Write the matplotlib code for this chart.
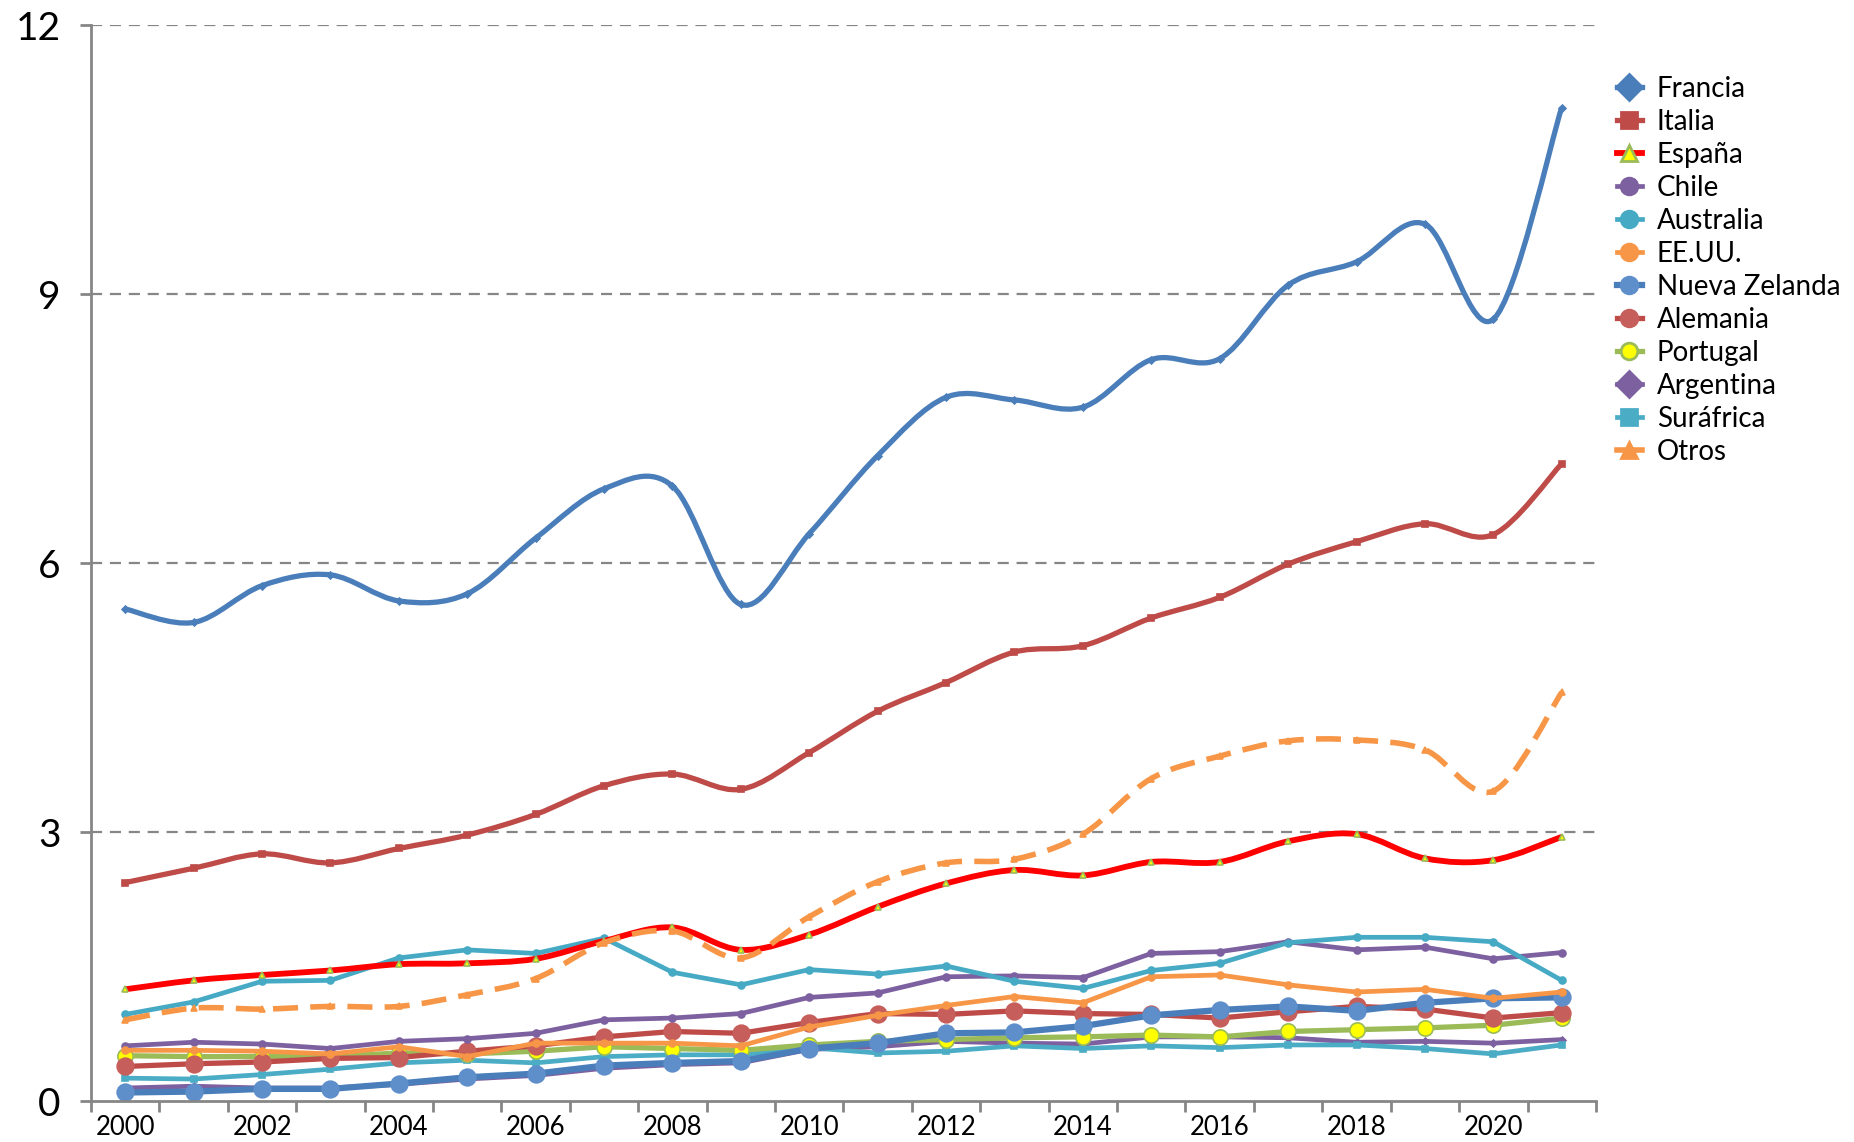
"""Recreate the multi-country line chart (2000-2021)."""

import matplotlib

matplotlib.use("Agg")
import matplotlib.pyplot as plt
from matplotlib.lines import Line2D
from matplotlib.patches import PathPatch
from matplotlib.path import Path

plt.rcParams["font.family"] = ["Lato", "DejaVu Sans"]

years = list(range(2000, 2022))

francia = [5.49, 5.34, 5.75, 5.87, 5.58, 5.66, 6.28, 6.83, 6.86, 5.54, 6.33,
           7.20, 7.85, 7.82, 7.74, 8.27, 8.28, 9.10, 9.36, 9.78, 8.72, 11.08]
italia = [2.44, 2.60, 2.76, 2.66, 2.82, 2.97, 3.20, 3.52, 3.65, 3.48, 3.89,
          4.35, 4.67, 5.01, 5.08, 5.39, 5.62, 5.99, 6.24, 6.44, 6.32, 7.11]
espana = [1.25, 1.35, 1.41, 1.46, 1.53, 1.54, 1.59, 1.79, 1.94, 1.69, 1.86,
          2.17, 2.43, 2.58, 2.52, 2.67, 2.67, 2.90, 2.98, 2.71, 2.69, 2.95]
chile = [0.62, 0.66, 0.64, 0.59, 0.67, 0.70, 0.76, 0.91, 0.93, 0.98, 1.16,
         1.21, 1.39, 1.40, 1.38, 1.65, 1.67, 1.78, 1.69, 1.72, 1.59, 1.66]
australia = [0.97, 1.11, 1.34, 1.35, 1.60, 1.69, 1.65, 1.82, 1.44, 1.30, 1.47,
             1.42, 1.51, 1.34, 1.26, 1.46, 1.54, 1.77, 1.83, 1.83, 1.78, 1.35]
eeuu = [0.57, 0.57, 0.56, 0.53, 0.61, 0.50, 0.65, 0.65, 0.65, 0.62, 0.83,
        0.96, 1.07, 1.17, 1.10, 1.39, 1.41, 1.30, 1.22, 1.25, 1.15, 1.22]
nueva_zelanda = [0.10, 0.11, 0.14, 0.14, 0.20, 0.27, 0.31, 0.40, 0.43, 0.45, 0.59,
                 0.65, 0.76, 0.77, 0.84, 0.96, 1.02, 1.06, 1.01, 1.10, 1.15, 1.16]
alemania = [0.39, 0.42, 0.44, 0.48, 0.49, 0.56, 0.62, 0.72, 0.78, 0.76, 0.88,
            0.98, 0.97, 1.01, 0.98, 0.97, 0.93, 1.00, 1.06, 1.03, 0.93, 0.99]
portugal = [0.51, 0.50, 0.50, 0.50, 0.54, 0.53, 0.56, 0.61, 0.59, 0.57, 0.63,
            0.67, 0.69, 0.71, 0.72, 0.74, 0.72, 0.78, 0.80, 0.82, 0.85, 0.93]
argentina = [0.15, 0.17, 0.15, 0.15, 0.19, 0.25, 0.29, 0.37, 0.41, 0.43, 0.58,
             0.61, 0.67, 0.65, 0.64, 0.72, 0.72, 0.71, 0.66, 0.67, 0.65, 0.69]
surafrica = [0.26, 0.25, 0.30, 0.36, 0.43, 0.46, 0.43, 0.50, 0.52, 0.52, 0.60,
             0.54, 0.56, 0.62, 0.59, 0.62, 0.60, 0.63, 0.63, 0.59, 0.53, 0.63]
otros = [0.91, 1.04, 1.03, 1.06, 1.06, 1.19, 1.37, 1.77, 1.90, 1.60, 2.06,
         2.45, 2.66, 2.70, 2.98, 3.60, 3.85, 4.02, 4.03, 3.92, 3.46, 4.56]

x_labels = [str(y) for y in years[::2]]
y_ticks = [0, 3, 6, 9, 12]

GRAY = "#868686"


def smooth_path(xs, ys):
    """Bezier path through the points (Excel-style smoothed line)."""
    n = len(xs)
    verts = [(xs[0], ys[0])]
    codes = [Path.MOVETO]
    for i in range(n - 1):
        a = max(i - 1, 0)
        b = min(i + 2, n - 1)
        c1 = (xs[i] + (xs[i + 1] - xs[a]) / 6, ys[i] + (ys[i + 1] - ys[a]) / 6)
        c2 = (xs[i + 1] - (xs[b] - xs[i]) / 6, ys[i + 1] - (ys[b] - ys[i]) / 6)
        verts += [c1, c2, (xs[i + 1], ys[i + 1])]
        codes += [Path.CURVE4] * 3
    return Path(verts, codes)


# name, values, line colour, lw, marker, size, face, edge, smooth, dashed, z
series = [
    ("Francia", francia, "#4A7EBB", 3.8, "D", 3.5, "#4A7EBB", "#4A7EBB", True, False, 2.9),
    ("Italia", italia, "#BE4B48", 3.8, "s", 4, "#BE4B48", "#BE4B48", True, False, 2.8),
    ("España", espana, "#FF0000", 4.2, "^", 5, "#FFFF00", "#9BBB59", True, False, 3.0),
    ("Chile", chile, "#7D60A0", 3.4, "o", 5, "#7D60A0", "#7D60A0", False, False, 2.5),
    ("Australia", australia, "#46AAC5", 3.4, "o", 5, "#46AAC5", "#46AAC5", False, False, 2.7),
    ("EE.UU.", eeuu, "#F79646", 3.4, "o", 5, "#F79646", "#F79646", False, False, 2.6),
    ("Nueva Zelanda", nueva_zelanda, "#4A7EBB", 4.5, "o", 12, "#5F8FCB", "#5F8FCB", False, False, 2.4),
    ("Alemania", alemania, "#BE4B48", 3.8, "o", 12, "#C65E5B", "#C65E5B", False, False, 2.3),
    ("Portugal", portugal, "#9BBB59", 3.8, "o", 11, "#FFFF00", "#9BBB59", False, False, 2.2),
    ("Argentina", argentina, "#7D60A0", 3.4, "D", 3.5, "#7D60A0", "#7D60A0", False, False, 2.0),
    ("Surafrica", surafrica, "#4BACC6", 3.4, "s", 4, "#4BACC6", "#4BACC6", False, False, 2.1),
    ("Otros", otros, "#F79646", 4.0, "^", 5, "#F79646", "#F79646", True, True, 3.1),
]
legend_names = ["Francia", "Italia", "España", "Chile", "Australia", "EE.UU.",
                "Nueva Zelanda", "Alemania", "Portugal", "Argentina", "Suráfrica", "Otros"]
legend_markers = ["D", "s", "^", "o", "o", "o", "o", "o", "o", "D", "s", "^"]


def main() -> None:
    fig = plt.figure(figsize=(18.54, 11.42), dpi=100)
    ax = fig.add_axes([0.0491, 0.0355, 0.8117, 0.9426])
    xs = list(range(len(years)))

    handles = []
    for (name, vals, lc, lw, mk, ms, fc, ec, smooth, dashed, z), lname, lmk in zip(
            series, legend_names, legend_markers):
        ls = (0, (4.5, 2.2)) if dashed else "-"
        if smooth:
            patch = PathPatch(smooth_path(xs, vals), fill=False, edgecolor=lc,
                              lw=lw, linestyle=ls, capstyle="butt", zorder=z)
            ax.add_patch(patch)
            ax.plot(xs, vals, linestyle="none", marker=mk, markersize=ms,
                    markerfacecolor=fc, markeredgecolor=ec, markeredgewidth=1.2,
                    zorder=z + 0.01)
        else:
            ax.plot(xs, vals, color=lc, lw=lw, marker=mk, markersize=ms,
                    markerfacecolor=fc, markeredgecolor=ec, markeredgewidth=1.2,
                    solid_joinstyle="round", zorder=z)
        hsize = 12 if lmk != "D" else 13
        handles.append(Line2D([], [], color=lc, lw=lw, linestyle="-",
                              marker=lmk, markersize=hsize, markerfacecolor=fc,
                              markeredgecolor=ec, markeredgewidth=2.0, label=lname))

    ax.set_xlim(-0.5, 21.5)
    ax.set_ylim(0, 12)
    ax.set_yticks(y_ticks)
    ax.set_yticklabels([str(t) for t in y_ticks])
    ax.set_xticks(xs[::2])
    ax.set_xticklabels(x_labels)
    ax.set_xticks([i - 0.5 for i in range(len(years) + 1)], minor=True)
    ax.tick_params(axis="x", which="major", length=0, pad=10, labelsize=18.5)
    ax.tick_params(axis="x", which="minor", length=8, width=2, color=GRAY,
                   direction="out")
    ax.tick_params(axis="y", length=8, width=2, color=GRAY, pad=14, labelsize=28)

    for v in y_ticks[1:]:
        ax.axhline(v, color=GRAY, lw=1.6, linestyle=(0, (5, 3.5)), zorder=1)

    for side in ("top", "right"):
        ax.spines[side].set_visible(False)
    for side in ("left", "bottom"):
        ax.spines[side].set_color(GRAY)
        ax.spines[side].set_linewidth(2)

    fig.legend(handles=handles, loc="upper left", bbox_to_anchor=(0.866, 0.943),
               frameon=False, fontsize=20, handlelength=0.9, handletextpad=0.55,
               labelspacing=0.25, borderaxespad=0)

    fig.savefig("out.png", dpi=100, facecolor="white")
    plt.close(fig)


if __name__ == "__main__":
    main()
